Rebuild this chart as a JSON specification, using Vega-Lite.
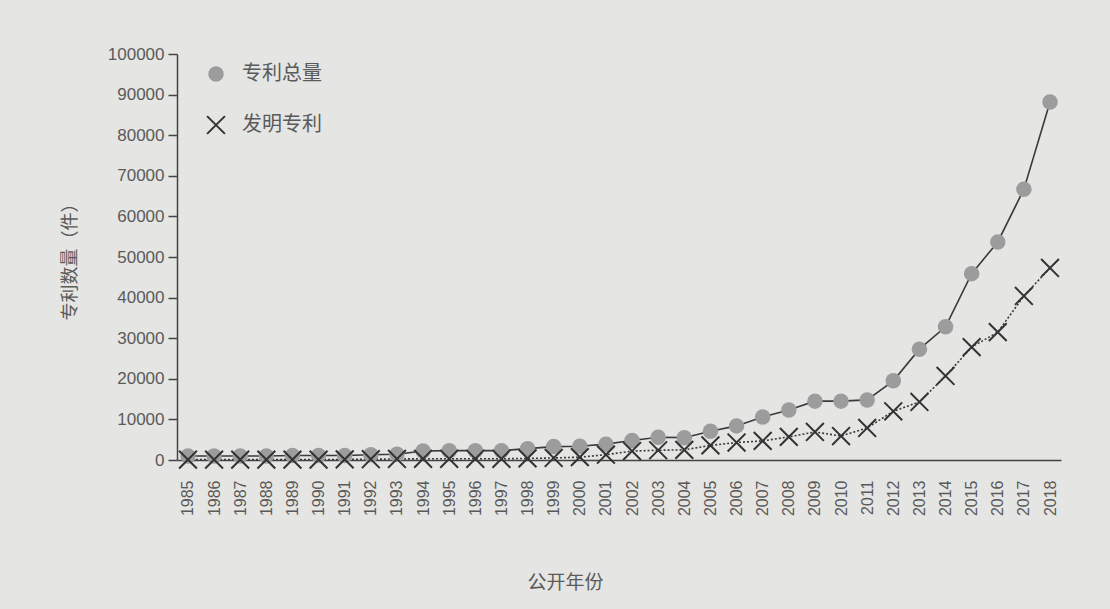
{
  "$schema": "https://vega.github.io/schema/vega-lite/v6.json",
  "autosize": "none",
  "width": 884,
  "height": 406,
  "padding": {"left": 177, "top": 54, "right": 49, "bottom": 149},
  "background": "#e5e5e3",
  "config": {
    "font": "Noto Sans CJK SC",
    "view": {"stroke": null},
    "axis": {"labelFont": "Liberation Sans", "labelColor": "#5a5a5a", "titleColor": "#5a5a5a", "titleFontWeight": "normal", "domainColor": "#444", "tickColor": "#444", "domainWidth": 1.5, "tickWidth": 1.5, "grid": false},
    "legend": {"orient": "none", "legendX": 29, "legendY": 10, "labelFontSize": 20, "labelColor": "#5a5a5a", "labelOffset": 16, "rowPadding": 26, "symbolSize": 240, "symbolStrokeWidth": 2, "padding": 0}
  },
  "data": {
    "values": [
      {"year": "1985", "series": "专利总量", "value": 1000}, {"year": "1986", "series": "专利总量", "value": 1000},
      {"year": "1987", "series": "专利总量", "value": 1000}, {"year": "1988", "series": "专利总量", "value": 1000},
      {"year": "1989", "series": "专利总量", "value": 1100}, {"year": "1990", "series": "专利总量", "value": 1100},
      {"year": "1991", "series": "专利总量", "value": 1100}, {"year": "1992", "series": "专利总量", "value": 1300},
      {"year": "1993", "series": "专利总量", "value": 1400}, {"year": "1994", "series": "专利总量", "value": 2200},
      {"year": "1995", "series": "专利总量", "value": 2300}, {"year": "1996", "series": "专利总量", "value": 2300},
      {"year": "1997", "series": "专利总量", "value": 2300}, {"year": "1998", "series": "专利总量", "value": 2800},
      {"year": "1999", "series": "专利总量", "value": 3300}, {"year": "2000", "series": "专利总量", "value": 3400},
      {"year": "2001", "series": "专利总量", "value": 3900}, {"year": "2002", "series": "专利总量", "value": 4800},
      {"year": "2003", "series": "专利总量", "value": 5600}, {"year": "2004", "series": "专利总量", "value": 5500},
      {"year": "2005", "series": "专利总量", "value": 7100}, {"year": "2006", "series": "专利总量", "value": 8400},
      {"year": "2007", "series": "专利总量", "value": 10600}, {"year": "2008", "series": "专利总量", "value": 12300},
      {"year": "2009", "series": "专利总量", "value": 14500}, {"year": "2010", "series": "专利总量", "value": 14500},
      {"year": "2011", "series": "专利总量", "value": 14800}, {"year": "2012", "series": "专利总量", "value": 19500},
      {"year": "2013", "series": "专利总量", "value": 27300}, {"year": "2014", "series": "专利总量", "value": 32800},
      {"year": "2015", "series": "专利总量", "value": 45900}, {"year": "2016", "series": "专利总量", "value": 53700},
      {"year": "2017", "series": "专利总量", "value": 66700}, {"year": "2018", "series": "专利总量", "value": 88200},
      {"year": "1985", "series": "发明专利", "value": 100}, {"year": "1986", "series": "发明专利", "value": 100},
      {"year": "1987", "series": "发明专利", "value": 100}, {"year": "1988", "series": "发明专利", "value": 100},
      {"year": "1989", "series": "发明专利", "value": 100}, {"year": "1990", "series": "发明专利", "value": 100},
      {"year": "1991", "series": "发明专利", "value": 150}, {"year": "1992", "series": "发明专利", "value": 200},
      {"year": "1993", "series": "发明专利", "value": 250}, {"year": "1994", "series": "发明专利", "value": 300},
      {"year": "1995", "series": "发明专利", "value": 300}, {"year": "1996", "series": "发明专利", "value": 300},
      {"year": "1997", "series": "发明专利", "value": 300}, {"year": "1998", "series": "发明专利", "value": 400},
      {"year": "1999", "series": "发明专利", "value": 500}, {"year": "2000", "series": "发明专利", "value": 700},
      {"year": "2001", "series": "发明专利", "value": 1300}, {"year": "2002", "series": "发明专利", "value": 2200},
      {"year": "2003", "series": "发明专利", "value": 2400}, {"year": "2004", "series": "发明专利", "value": 2500},
      {"year": "2005", "series": "发明专利", "value": 3600}, {"year": "2006", "series": "发明专利", "value": 4300},
      {"year": "2007", "series": "发明专利", "value": 4700}, {"year": "2008", "series": "发明专利", "value": 5700},
      {"year": "2009", "series": "发明专利", "value": 6900}, {"year": "2010", "series": "发明专利", "value": 5900},
      {"year": "2011", "series": "发明专利", "value": 7900}, {"year": "2012", "series": "发明专利", "value": 12000},
      {"year": "2013", "series": "发明专利", "value": 14300}, {"year": "2014", "series": "发明专利", "value": 20700},
      {"year": "2015", "series": "发明专利", "value": 27800}, {"year": "2016", "series": "发明专利", "value": 31500},
      {"year": "2017", "series": "发明专利", "value": 40400}, {"year": "2018", "series": "发明专利", "value": 47300}
    ]
  },
  "encoding": {
    "x": {
      "field": "year", "type": "ordinal",
      "scale": {"type": "point", "padding": 0.42},
      "axis": {"title": "公开年份", "labelAngle": -90, "labelFontSize": 16, "labelPadding": 20, "ticks": false, "titleFontSize": 19, "titlePadding": 58, "titleX": 388}
    },
    "y": {
      "field": "value", "type": "quantitative",
      "scale": {"domain": [0, 100000], "nice": false},
      "axis": {"title": "专利数量（件）", "values": [0, 10000, 20000, 30000, 40000, 50000, 60000, 70000, 80000, 90000, 100000], "format": "d", "labelFontSize": 17, "tickSize": 9, "labelPadding": 4, "titleFontSize": 18, "titlePadding": 28}
    }
  },
  "layer": [
    {
      "transform": [{"filter": "datum.series === '专利总量'"}],
      "mark": {"type": "line", "color": "#3a3a3a", "strokeWidth": 1.6},
      "encoding": {}
    },
    {
      "transform": [{"filter": "datum.series === '发明专利'"}],
      "mark": {"type": "line", "color": "#3a3a3a", "strokeWidth": 1.6, "strokeDash": [2, 2]},
      "encoding": {}
    },
    {
      "mark": {"type": "point", "filled": false, "opacity": 1, "strokeWidth": 2, "size": 240},
      "encoding": {
        "shape": {"field": "series", "type": "nominal", "scale": {"domain": ["专利总量", "发明专利"], "range": ["circle", "M-1.15,-1.15L1.15,1.15M1.15,-1.15L-1.15,1.15"]}, "legend": {"title": null}},
        "fill": {"field": "series", "type": "nominal", "scale": {"domain": ["专利总量", "发明专利"], "range": ["#9c9c9c", "transparent"]}, "legend": {"title": null}},
        "stroke": {"field": "series", "type": "nominal", "scale": {"domain": ["专利总量", "发明专利"], "range": ["transparent", "#333333"]}, "legend": {"title": null}}
      }
    }
  ]
}
